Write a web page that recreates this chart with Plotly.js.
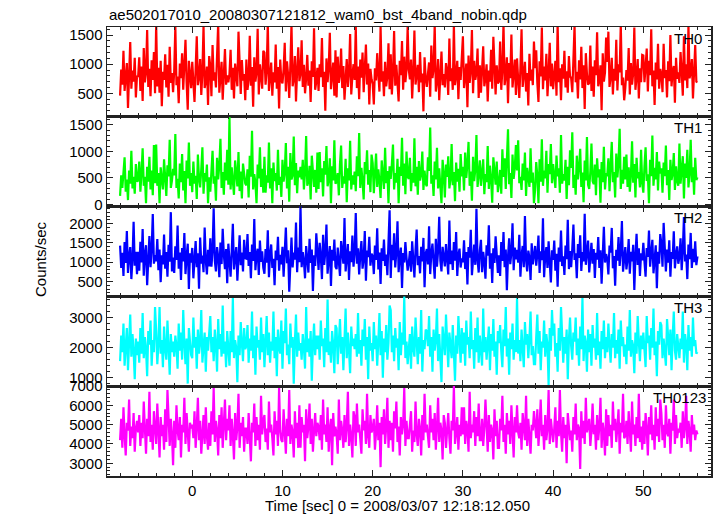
<!DOCTYPE html>
<html>
<head>
<meta charset="utf-8">
<script src="https://cdn.plot.ly/plotly-3.0.1.min.js"></script>
<style>html,body{margin:0;padding:0;background:#fff;}#chart{width:717px;height:516px;}</style>
</head>
<body>
<div id="chart"></div>
<script>
// Time grid of the light curve (seconds from 2008/03/07 12:18:12.050)
const timeStart = -8;
const timeStep = 0.125;

const panelLabels = ["TH0", "TH1", "TH2", "TH3", "TH0123"];

const TH0 = [
 460, 910, 650, 1230, 540, 830, 1020, 250, 760, 1380, 580, 890, 700, 1110, 430, 800,
 780, 1120, 540, 960, 370, 1280, 690, 850, 1590, 610, 920, 450, 1070, 730, 1210, 500,
 1690, 620, 940, 510, 1060, 280, 870, 730, 1170, 600, 990, 440, 1300, 680, 850, 520,
 880, 1650, 640, 790, 330, 1010, 760, 1190, 560, 940, 1420, 680, 220, 1060, 820, 590,
 1040, 760, 350, 920, 1480, 640, 780, 1090, 470, 860, 1660, 590, 710, 960, 300, 1140,
 970, 450, 1330, 720, 860, 600, 1150, 1700, 510, 780, 1040, 390, 900, 1260, 650, 810,
 690, 830, 1250, 560, 940, 410, 1010, 750, 620, 1560, 880, 490, 1070, 720, 830, 380,
 1080, 560, 740, 1490, 630, 950, 270, 1120, 700, 860, 1610, 480, 1000, 760, 580, 1230,
 1200, 650, 900, 1700, 540, 770, 1030, 460, 860, 690, 1340, 580, 950, 240, 1080, 720,
 670, 910, 1370, 530, 1050, 820, 420, 980, 1690, 620, 750, 1140, 360, 890, 1290, 710,
 840, 1410, 610, 990, 500, 760, 1160, 630, 890, 350, 1050, 780, 1620, 560, 700, 940,
 540, 1000, 780, 1450, 610, 870, 200, 1100, 690, 940, 1540, 570, 820, 1030, 460, 1240,
 430, 1130, 680, 820, 1270, 590, 970, 390, 740, 1090, 610, 860, 1520, 480, 800, 1000,
 730, 1660, 590, 960, 400, 1080, 770, 1200, 520, 880, 1340, 650, 1010, 310, 920, 740,
 660, 310, 930, 720, 1190, 840, 530, 1650, 700, 880, 450, 1040, 620, 790, 1360, 570,
 1170, 480, 860, 1570, 630, 990, 720, 360, 1060, 810, 1400, 560, 1130, 690, 900, 1640,
 910, 740, 1080, 410, 860, 1580, 650, 780, 990, 520, 1210, 690, 840, 190, 1120, 760,
 610, 840, 1030, 440, 1320, 760, 920, 1680, 530, 700, 1090, 380, 960, 1220, 640, 830,
 600, 1020, 880, 470, 1440, 710, 930, 560, 1680, 640, 810, 1060, 400, 950, 730, 1150,
 1480, 590, 770, 1010, 260, 1150, 680, 890, 1590, 500, 1060, 730, 850, 1270, 420, 980,
 510, 870, 1310, 620, 760, 1000, 360, 890, 700, 1250, 580, 1470, 830, 480, 980, 670,
 700, 1390, 560, 910, 1700, 640, 810, 1120, 330, 1020, 760, 1510, 600, 880, 1080, 470,
 1100, 740, 420, 940, 1600, 610, 790, 1040, 530, 850, 290, 1180, 720, 910, 640, 1390,
 930, 1240, 680, 350, 1050, 790, 1630, 570, 960, 720, 1180, 450, 840, 1370, 620, 1010,
 570, 820, 1060, 460, 1700, 690, 930, 380, 1000, 750, 1230, 600, 880, 510, 1140, 790,
 760, 520, 1140, 1660, 690, 870, 410, 1070, 740, 1300, 590, 980, 230, 1190, 830, 650,
 680, 1320, 540, 960, 440, 1070, 810, 1550, 620, 740, 980, 210, 1190, 700, 860, 1460,
 1040, 1560, 610, 780, 1110, 480, 920, 720, 1420, 550, 1000, 860, 1690, 640, 770, 380,
 590, 900, 720, 1280, 480, 1020, 650, 840, 1630, 560, 780, 1090, 410, 930, 690, 1160,
 1150, 690, 950, 1270, 530, 1060, 810, 1600, 620, 890, 300, 1030, 740, 1350, 580, 920,
 820, 520, 1350, 760, 900, 430, 1050, 710, 1500, 620, 880, 970, 340, 1110, 750, 860,
 680, 1210, 870, 460, 1480, 720, 1000, 590, 1670, 760, 850, 1090, 410, 960, 1330, 700,
 690
];

const TH1 = [
 160, 550, 310, 720, 890, 240, 470, 80, 640, 390, 1010, 300, 520, 200, 760, 430,
 450, 810, 240, 590, 1060, 350, 520, 20, 710, 430, 900, 280, 640, 170, 1120, 400,
 1130, 350, 590, 20, 700, 470, 280, 850, 410, 160, 740, 530, 1220, 310, 450, 670,
 550, 1330, 310, 480, 110, 770, 420, 950, 260, 630, 20, 830, 490, 1170, 350, 590,
 230, 810, 390, 540, 100, 940, 480, 320, 660, 1080, 200, 590, 430, 750, 20, 510,
 240, 700, 1010, 390, 530, 70, 880, 470, 740, 1240, 310, 610, 180, 790, 450, 1030,
 370, 1650, 280, 700, 450, 180, 830, 560, 340, 990, 250, 620, 110, 770, 490, 390,
 360, 660, 130, 920, 520, 1390, 280, 570, 410, 20, 750, 490, 1080, 330, 670, 220,
 900, 220, 550, 410, 1170, 300, 680, 20, 790, 440, 590, 260, 1030, 370, 520, 140,
 840, 430, 600, 1160, 300, 710, 50, 970, 470, 550, 1280, 360, 780, 210, 640, 510,
 710, 470, 840, 280, 600, 1290, 350, 430, 730, 90, 920, 510, 330, 650, 220, 980,
 290, 990, 420, 680, 150, 820, 560, 1100, 340, 470, 870, 20, 720, 450, 1210, 390,
 420, 590, 170, 760, 1110, 310, 530, 390, 860, 40, 680, 450, 1200, 280, 550, 370,
 620, 250, 910, 530, 1350, 310, 690, 440, 90, 800, 570, 1020, 370, 650, 230, 940,
 780, 210, 520, 960, 330, 660, 450, 120, 830, 540, 290, 1070, 400, 630, 20, 720,
 480, 760, 1130, 280, 590, 410, 860, 20, 710, 540, 1260, 350, 770, 190, 1000, 520,
 480, 880, 250, 590, 410, 1250, 340, 710, 180, 820, 450, 560, 1000, 270, 640, 390,
 340, 890, 630, 1450, 390, 550, 160, 810, 470, 1070, 300, 680, 430, 20, 840, 580,
 130, 750, 520, 910, 300, 470, 1140, 360, 610, 60, 790, 430, 670, 240, 950, 530,
 710, 260, 980, 500, 770, 1180, 350, 620, 70, 900, 440, 660, 1310, 330, 550, 830,
 350, 700, 850, 190, 570, 420, 1100, 290, 730, 480, 30, 890, 550, 370, 810, 230,
 410, 650, 200, 1040, 520, 870, 290, 730, 1420, 380, 590, 120, 940, 480, 690, 1120,
 640, 1210, 400, 520, 270, 770, 450, 980, 160, 690, 540, 330, 1060, 410, 600, 20,
 270, 800, 540, 20, 850, 430, 1230, 350, 640, 490, 1010, 220, 760, 570, 1140, 400,
 760, 470, 310, 920, 530, 680, 220, 1310, 390, 570, 450, 840, 100, 710, 360, 1020,
 690, 1360, 310, 560, 180, 920, 470, 710, 1050, 330, 600, 40, 830, 450, 1270, 370,
 290, 620, 1150, 440, 380, 750, 170, 870, 510, 660, 30, 800, 420, 1090, 280, 590,
 530, 870, 250, 740, 1180, 420, 610, 130, 960, 510, 780, 1430, 290, 650, 390, 900,
 470, 940, 330, 700, 240, 550, 1190, 410, 760, 130, 880, 490, 610, 320, 1030, 400,
 220, 720, 1080, 440, 570, 20, 840, 530, 1300, 350, 690, 470, 990, 260, 810, 580,
 680, 220, 790, 530, 1110, 360, 650, 80, 840, 460, 580, 970, 270, 720, 440, 350,
 1150, 390, 650, 910, 110, 770, 500, 1030, 320, 590, 1220, 420, 700, 180, 880, 460,
 510
];

const TH2 = [
 1430, 850, 1240, 640, 1520, 980, 1810, 720, 1150, 1390, 560, 1080, 2050, 910, 1270, 690,
 1270, 780, 1530, 990, 1860, 650, 1200, 1440, 400, 1100, 1680, 870, 1330, 2250, 960, 1180,
 1020, 1600, 790, 1330, 480, 1180, 940, 1720, 830, 1260, 620, 1450, 1010, 2300, 760, 1120,
 720, 1410, 1060, 1950, 830, 1250, 540, 1370, 1020, 1760, 690, 1150, 1480, 300, 1230, 990,
 1370, 580, 1090, 1550, 870, 1230, 310, 1640, 960, 1170, 740, 1900, 1040, 680, 1320, 890,
 1620, 880, 1290, 2400, 1040, 760, 1390, 1140, 610, 1510, 950, 1870, 1200, 820, 1340, 450,
 1480, 1060, 620, 1290, 2000, 810, 1150, 1390, 520, 1010, 1700, 920, 1250, 760, 1580, 1100,
 1090, 1730, 900, 1260, 580, 1460, 1030, 2120, 790, 1180, 1350, 670, 1560, 1010, 1280, 850,
 700, 1340, 990, 1830, 610, 1210, 1460, 850, 1090, 400, 1300, 1050, 1660, 780, 1190, 940,
 1400, 620, 1190, 1900, 970, 1310, 230, 1120, 1640, 860, 1250, 1070, 2030, 740, 1380, 1000,
 2450, 870, 1260, 1030, 580, 1420, 1140, 730, 1610, 980, 1330, 250, 1180, 900, 1750, 1070,
 800, 1500, 1160, 560, 1710, 930, 1270, 1980, 700, 1090, 1420, 380, 1320, 1040, 1590, 880,
 820, 1380, 1010, 640, 1550, 1240, 960, 2150, 760, 1120, 1470, 540, 1280, 1000, 1690, 880,
 1240, 2280, 960, 1360, 680, 1190, 1550, 830, 1080, 1810, 520, 1300, 1130, 1660, 910, 1220,
 1160, 690, 1430, 1060, 1880, 810, 1250, 430, 1360, 1030, 1590, 900, 1200, 660, 1410, 2350,
 590, 1450, 1050, 1750, 860, 1270, 2060, 740, 1160, 1380, 330, 1240, 990, 1520, 1110, 780,
 970, 1290, 750, 1540, 1080, 600, 1320, 1850, 920, 1160, 710, 1400, 1020, 1630, 350, 1230,
 1340, 940, 1930, 690, 1230, 1480, 1010, 570, 1610, 880, 1290, 2180, 1040, 760, 1400, 1150,
 890, 1470, 1120, 680, 2080, 950, 1300, 800, 1520, 1040, 1780, 640, 1190, 1350, 860, 1100,
 1000, 1570, 820, 1260, 420, 1390, 1120, 1840, 660, 1200, 1460, 930, 2390, 1060, 730, 1300,
 1580, 740, 1270, 1010, 570, 1440, 1170, 1960, 830, 1230, 460, 1360, 980, 1670, 1090, 720,
 1180, 640, 1520, 1030, 1780, 870, 1330, 270, 1140, 1620, 950, 1250, 2010, 790, 1380, 1070,
 1320, 990, 1710, 620, 1180, 1420, 870, 2200, 1050, 760, 1300, 1120, 540, 1490, 940, 1250,
 1420, 910, 1200, 1690, 720, 1280, 1050, 2140, 610, 1160, 1390, 850, 1540, 990, 470, 1310,
 1060, 1560, 780, 1220, 360, 1380, 1010, 1820, 900, 1150, 670, 1430, 1080, 2100, 820, 1290,
 870, 1350, 1980, 1060, 1230, 580, 1470, 1110, 1700, 770, 1260, 1020, 2260, 930, 1190, 1560,
 730, 1190, 1500, 960, 1340, 590, 1240, 1070, 1650, 850, 1310, 440, 1130, 1920, 990, 1210,
 1090, 680, 1430, 1250, 1890, 840, 1160, 390, 1320, 1040, 1650, 900, 1280, 2070, 750, 1210,
 1390, 810, 1080, 1600, 700, 1270, 1020, 1450, 280, 1170, 1740, 930, 1360, 640, 1230, 1050,
 1500, 1010, 620, 1370, 1140, 1820, 880, 1240, 1580, 710, 1100, 1440, 320, 1270, 960, 1730,
 1480, 880, 2020, 1110, 760, 1330, 990, 1570, 620, 1260, 1090, 1800, 840, 1190, 1410, 960,
 1130, 1620, 790, 1300, 2170, 1020, 1200, 560, 1460, 1080, 1760, 850, 1350, 1000, 1540, 920,
 1150
];

const TH3 = [
 1550, 2400, 1850, 2800, 1400, 2150, 2650, 1250, 2000, 3100, 1700, 2450, 1900, 950, 2300, 1750,
 2200, 1500, 2650, 1800, 3150, 1650, 2350, 1950, 1050, 2550, 2100, 2900, 1400, 2250, 1850, 3350,
 2550, 1450, 2100, 3350, 1800, 2250, 1350, 2700, 1950, 1600, 2900, 2150, 1100, 2450, 1850, 2200,
 1700, 2400, 2050, 1300, 2800, 1900, 2500, 1600, 3250, 2150, 1450, 2300, 800, 2650, 2000, 1750,
 1650, 3000, 2000, 2350, 1300, 2600, 1800, 2150, 3250, 1500, 2050, 2500, 1200, 2350, 1900, 2750,
 3050, 1850, 2350, 1550, 2600, 2100, 1200, 2950, 1950, 2450, 1700, 3400, 1800, 2200, 1350, 2550,
 2100, 1400, 2550, 1850, 3650, 1650, 2250, 2000, 850, 2400, 1750, 2850, 2150, 1550, 2650, 1950,
 2050, 2750, 1500, 2300, 1900, 3200, 1650, 2400, 1100, 2700, 2000, 2250, 1600, 3000, 1850, 2450,
 1350, 2300, 3050, 1750, 2500, 1500, 2200, 1900, 3200, 1650, 2350, 1050, 2600, 2000, 1800, 2900,
 1300, 2550, 2150, 3300, 1750, 2100, 1450, 2800, 2000, 2350, 800, 2200, 3100, 1700, 2500, 1900,
 2150, 1600, 2450, 2000, 1300, 3350, 1850, 2300, 1700, 2550, 900, 2100, 2800, 1750, 2400, 1950,
 2400, 1600, 2900, 2050, 2300, 1350, 2650, 1850, 3600, 1750, 2200, 1500, 2550, 2100, 1150, 2750,
 2650, 1450, 2200, 2950, 1800, 2350, 1250, 2100, 3300, 1650, 2500, 1900, 1150, 2700, 2050, 2300,
 1950, 2450, 1700, 3150, 1800, 2250, 1400, 2600, 2050, 2950, 1600, 2350, 950, 2700, 1900, 2150,
 1550, 2850, 1950, 2400, 1400, 2200, 3150, 1750, 2550, 1000, 2300, 1850, 2750, 1600, 2150, 3400,
 3250, 1850, 2400, 1550, 2650, 2000, 2300, 1250, 2850, 1750, 2500, 2100, 3700, 1650, 2200, 1450,
 1900, 2450, 1300, 2700, 2000, 1700, 3000, 2100, 1450, 2350, 1800, 3250, 1200, 2250, 1950, 2600,
 2550, 2050, 3050, 1700, 2350, 1200, 2600, 1900, 2250, 3300, 1550, 2450, 1800, 850, 2700, 2150,
 1750, 3100, 2150, 1350, 2500, 1900, 1650, 2750, 2050, 900, 2400, 1800, 3050, 2200, 1500, 2650,
 1800, 2500, 1400, 2900, 2100, 2350, 1650, 3200, 1950, 2250, 1300, 2650, 1850, 3000, 1500, 2400,
 2000, 1400, 3300, 1850, 2350, 1600, 2150, 2700, 1250, 2450, 1900, 2950, 1700, 2200, 1100, 2550,
 2150, 2750, 1900, 1350, 2600, 2050, 3350, 1700, 2300, 1100, 2500, 1950, 2800, 1600, 2250, 1850,
 3650, 1800, 2250, 1550, 2600, 1950, 1350, 2850, 2100, 2450, 1650, 2300, 3200, 1750, 2050, 1450,
 1450, 2350, 3100, 1800, 2550, 1250, 2200, 2000, 2900, 1700, 2450, 2100, 750, 2650, 1900, 3250,
 2400, 2800, 1700, 2150, 1200, 2650, 1900, 3350, 2050, 1500, 2350, 1800, 2600, 950, 2250, 3000,
 2050, 1600, 2500, 2200, 3000, 1750, 2300, 1400, 2700, 1950, 3650, 1550, 2400, 2150, 1200, 2600,
 1850, 2450, 1400, 2750, 2000, 2300, 1600, 3150, 1750, 2200, 1300, 2550, 1950, 2900, 1650, 2350,
 1850, 2800, 2100, 1500, 2450, 2000, 3150, 1650, 2250, 1800, 2600, 1300, 2900, 2050, 2350, 1700,
 2100, 1450, 2700, 1900, 3250, 1700, 2250, 2050, 1150, 2500, 1800, 3050, 2200, 1550, 2400, 1950,
 2500, 1900, 1350, 3050, 2150, 2400, 1600, 2650, 2000, 3300, 1750, 2200, 1050, 2550, 2100, 2850,
 2750, 1650, 2300, 1850, 1400, 2950, 2150, 1750, 2600, 1250, 2350, 3200, 1900, 1600, 2450, 2100,
 1650, 2300, 1950, 3200, 1500, 2450, 2150, 1250, 2750, 1900, 2350, 1700, 3000, 2050, 2250, 1800,
 1850
];

const TH0123 = [
 4200, 5300, 3800, 5900, 4500, 3400, 5100, 4700, 6300, 3900, 4900, 4300, 5600, 3600, 4800, 5200,
 4600, 5500, 3900, 5100, 4300, 6200, 4800, 3500, 5300, 4400, 6700, 4100, 5000, 3700, 5700, 4500,
 4000, 6100, 4600, 3300, 5400, 4400, 5000, 3700, 5800, 4100, 6800, 4700, 3900, 5300, 4500, 2900,
 5200, 3800, 6000, 4700, 4200, 5400, 3300, 5000, 4600, 6400, 4000, 5600, 4400, 3600, 5100, 4800,
 5000, 4300, 5700, 3800, 4900, 6400, 4200, 5200, 3500, 4600, 5500, 4000, 5900, 4400, 3700, 5100,
 3900, 5700, 4500, 6900, 4100, 5200, 4700, 3400, 5500, 4300, 5900, 3800, 4900, 6300, 4200, 5300,
 4700, 6000, 3900, 5300, 4500, 3200, 5600, 4200, 4900, 6600, 3800, 5100, 4400, 5400, 3600, 4800,
 4800, 4000, 5600, 4400, 3100, 5100, 4600, 6100, 3900, 5400, 4200, 5000, 3700, 6500, 4500, 5200,
 5500, 4100, 4800, 3700, 6200, 4600, 5000, 4300, 3400, 5700, 4500, 5200, 3900, 6900, 4700, 4200,
 4100, 5800, 4700, 3500, 5300, 4400, 6800, 4000, 5000, 4600, 3300, 5700, 4300, 5100, 3800, 6000,
 3800, 5400, 4600, 5000, 3100, 5800, 4300, 4900, 6100, 4000, 5300, 3600, 4700, 5600, 4400, 5100,
 4900, 4200, 5500, 3700, 6300, 4500, 5000, 4100, 5900, 3600, 4800, 5300, 2900, 5600, 4400, 4900,
 4500, 3500, 6300, 4200, 5200, 4700, 3800, 5500, 4100, 4900, 6700, 3900, 5000, 4400, 3300, 5700,
 5400, 3900, 6100, 4600, 5000, 4300, 3500, 5800, 4700, 5200, 4000, 6600, 4400, 3800, 5500, 4600,
 4800, 5300, 3700, 4600, 6000, 4200, 5100, 2800, 5400, 4500, 5800, 4000, 4900, 6400, 3800, 5200,
 4200, 5100, 3600, 5700, 4800, 6200, 4100, 4900, 3400, 5400, 4500, 5000, 6900, 3900, 5200, 4300,
 4300, 5000, 5700, 3600, 4700, 4100, 6200, 4500, 3900, 5300, 4800, 3400, 5500, 4200, 6600, 4600,
 5000, 4400, 3800, 6000, 4600, 5300, 4200, 5600, 3700, 4900, 6400, 4100, 5100, 4700, 3200, 5500,
 5100, 3800, 4900, 5600, 4300, 3500, 5200, 4700, 7000, 4000, 4600, 5400, 3700, 5000, 4400, 5900,
 4500, 5900, 4000, 5200, 4800, 3600, 6700, 4300, 5000, 4600, 5700, 3900, 5400, 4400, 6100, 4200,
 4200, 5300, 3900, 4800, 6300, 4500, 3600, 5500, 4100, 5000, 4700, 3200, 5800, 4400, 5200, 3800,
 3800, 5300, 4700, 6500, 4100, 5000, 3500, 5600, 4500, 5200, 4000, 6000, 4800, 3300, 5400, 4600,
 6000, 4600, 4300, 5100, 3700, 5600, 4900, 4200, 6500, 3900, 5300, 4500, 3500, 5000, 4700, 5700,
 5100, 4300, 5800, 3900, 4900, 6300, 4400, 5000, 3700, 5500, 4200, 4800, 6800, 4000, 5300, 4500,
 4100, 4800, 5900, 3800, 5200, 4400, 6800, 4600, 3600, 5400, 4300, 5000, 3000, 5600, 4700, 4200,
 4700, 3600, 5400, 4500, 6100, 4200, 5000, 4800, 2700, 5700, 4300, 5200, 4000, 6400, 4600, 5100,
 5300, 3900, 4700, 6100, 4500, 5000, 3700, 5500, 4200, 4900, 6400, 3800, 5100, 4600, 3400, 5800,
 3900, 5500, 4400, 5000, 3800, 6200, 4700, 5300, 4100, 4900, 5800, 3500, 5100, 4600, 6600, 4300,
 4400, 5200, 4000, 5700, 4800, 3600, 6200, 4500, 5000, 3900, 5400, 4300, 6600, 4100, 4900, 3700,
 5200, 4000, 5600, 4800, 3400, 5400, 4500, 6000, 4200, 5000, 3700, 5900, 4400, 5300, 4100, 6300,
 5600, 4200, 5000, 3800, 6000, 4600, 4400, 5300, 3500, 5100, 4700, 6300, 4000, 5500, 4300, 4800,
 4600, 5100, 3800, 5700, 4300, 4900, 6500, 4000, 5200, 4700, 3600, 5500, 4500, 5000, 4200, 4700,
 4500
];

const seriesList = [TH0, TH1, TH2, TH3, TH0123];
const colors = ["#ff0000", "#00ff00", "#0000ff", "#00ffff", "#ff00ff"];
const yRanges = [[110, 1640], [-32, 1670], [120, 2460], [720, 3720], [2340, 7005]];
const yDticks = [500, 500, 500, 1000, 1000];
const yMinor = [100, 100, 100, 200, 200];
const labelRight = [704, 704, 704, 704, 708];

const time = TH0.map((_, i) => timeStart + i * timeStep);

// Panel boundaries in px from top of plot area (449 px tall)
const H = 449;
const bounds = [0, 89, 179, 269, 359, 449];

const traces = [];
const layout = {
  width: 717, height: 516,
  margin: {l: 107, r: 6, t: 27, b: 40},
  paper_bgcolor: "#ffffff", plot_bgcolor: "#ffffff",
  showlegend: false,
  font: {family: "Liberation Sans, Arial, sans-serif", size: 15, color: "#000"},
  annotations: [{
    text: "ae502017010_20080307121812_wam0_bst_4band_nobin.qdp",
    xref: "paper", yref: "paper", x: 0, xanchor: "left",
    y: 1 + (27 - 14) / H, yanchor: "middle", showarrow: false,
    font: {size: 15, color: "#000"}
  }]
};

const xRange = [-9.45, 57.5];

for (let p = 0; p < 5; p++) {
  const n = p + 1;
  const xa = n === 1 ? "x" : "x" + n;
  const ya = n === 1 ? "y" : "y" + n;
  traces.push({
    type: "scatter", mode: "lines",
    x: time, y: seriesList[p],
    xaxis: xa, yaxis: ya,
    line: {color: colors[p], width: 2.2},
    hoverinfo: "skip"
  });
  const top = 1 - bounds[p] / H;
  const bot = 1 - bounds[p + 1] / H;
  layout["xaxis" + (n === 1 ? "" : n)] = {
    anchor: ya, domain: [0, 1], range: xRange,
    showline: true, linecolor: "#222", linewidth: 1.5, mirror: "ticks",
    ticks: "inside", ticklen: 6, tickcolor: "#222", tickwidth: 1,
    tick0: 0, dtick: 10,
    minor: {ticks: "inside", ticklen: 3, dtick: 2, tick0: 0, tickcolor: "#222", showgrid: false},
    showgrid: false, zeroline: false,
    showticklabels: p === 4,
    tickfont: {size: 15, color: "#000"}
  };
  layout["yaxis" + (n === 1 ? "" : n)] = {
    anchor: xa, domain: [bot, top], range: yRanges[p],
    showline: true, linecolor: "#222", linewidth: 1.5, mirror: "ticks",
    ticks: "inside", ticklen: 6, tickcolor: "#222", tickwidth: 1,
    tick0: 0, dtick: yDticks[p],
    minor: {ticks: "inside", ticklen: 3, dtick: yMinor[p], tick0: 0, tickcolor: "#222", showgrid: false},
    showgrid: false, zeroline: false,
    tickfont: {size: 15, color: "#000"}
  };
  layout.annotations.push({
    text: panelLabels[p], xref: "paper", yref: "paper",
    x: (labelRight[p] - 107) / 604, xanchor: "right",
    y: 1 - (bounds[p] + 11) / H, yanchor: "middle",
    showarrow: false, font: {size: 15, color: "#000"}
  });
}

layout.annotations.push({
  text: "Counts/sec", xref: "paper", yref: "paper",
  x: (40 - 107) / 604, xanchor: "center",
  y: (476 - 259) / H, yanchor: "middle",
  textangle: -90, showarrow: false, font: {size: 15, color: "#000"}
});
layout.annotations.push({
  text: "Time [sec] 0 = 2008/03/07 12:18:12.050", xref: "paper", yref: "paper",
  x: (397 - 107) / 604, xanchor: "center",
  y: -(506 - 476) / H, yanchor: "middle",
  showarrow: false, font: {size: 15, color: "#000"}
});

Plotly.newPlot("chart", traces, layout, {displayModeBar: false, staticPlot: true});
</script>
</body>
</html>
